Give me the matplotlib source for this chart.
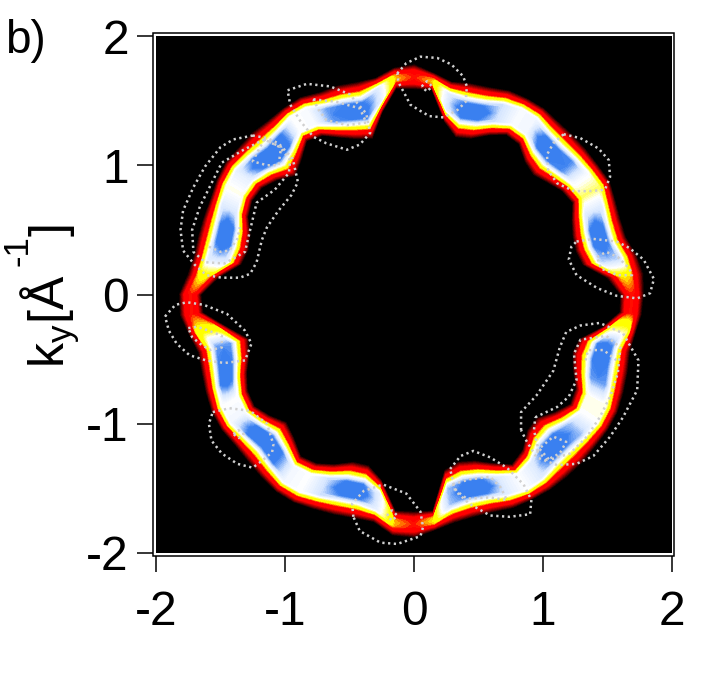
import numpy as np
import matplotlib
matplotlib.use('Agg')
import matplotlib.pyplot as plt
from matplotlib.colors import LinearSegmentedColormap
from matplotlib.patches import Rectangle

plt.rcParams['font.family'] = ['Liberation Sans', 'DejaVu Sans']
plt.rcParams['mathtext.fontset'] = 'custom'
plt.rcParams['mathtext.rm'] = 'Liberation Sans'
plt.rcParams['mathtext.default'] = 'regular'
plt.rcParams['axes.unicode_minus'] = False

# ring every 5 degrees, k in 1/A
ring_angle = np.arange(0, 360, 5)
ring_inner = [1.60, 1.50, 1.33, 1.30, 1.31, 1.35, 1.42, 1.40, 1.35, 1.31, 1.34, 1.42, 1.43, 1.36, 1.285, 1.26, 1.36, 1.59,
              1.59, 1.60, 1.43, 1.25, 1.28, 1.34, 1.42, 1.45, 1.36, 1.30, 1.38, 1.44, 1.45, 1.42, 1.35, 1.33, 1.36, 1.52,
              1.65, 1.64, 1.47, 1.33, 1.36, 1.43, 1.49, 1.51, 1.46, 1.40, 1.45, 1.53, 1.51, 1.45, 1.38, 1.37, 1.46, 1.68,
              1.68, 1.68, 1.38, 1.34, 1.37, 1.44, 1.52, 1.47, 1.37, 1.35, 1.42, 1.48, 1.45, 1.36, 1.31, 1.33, 1.48, 1.60]
ring_outer = [1.78, 1.785, 1.75, 1.70, 1.70, 1.72, 1.75, 1.74, 1.74, 1.74, 1.74, 1.755, 1.75, 1.74, 1.705, 1.69, 1.67, 1.72,
              1.78, 1.76, 1.70, 1.70, 1.72, 1.725, 1.76, 1.76, 1.755, 1.77, 1.77, 1.78, 1.765, 1.74, 1.735, 1.73, 1.73, 1.76,
              1.82, 1.82, 1.77, 1.73, 1.75, 1.78, 1.81, 1.82, 1.81, 1.82, 1.84, 1.86, 1.857, 1.83, 1.81, 1.79, 1.785, 1.87,
              1.88, 1.83, 1.79, 1.78, 1.79, 1.82, 1.83, 1.84, 1.84, 1.84, 1.83, 1.83, 1.82, 1.79, 1.76, 1.73, 1.74, 1.77]
ring_peak = [.38, .46, .82, 1.1, 1.1, .76, .58, .68, .92, 1.1, 1.05, .70, .68, .80, 1.1, 1.1, .76, .44,
             .38, .44, .76, 1.0, 1.1, .90, .68, .66, .95, 1.1, 1.1, .74, .64, .76, 1.1, 1.1, .76, .48,
             .38, .38, .50, .90, 1.1, 1.0, .66, .70, 1.0, 1.1, .95, .70, .66, .80, 1.1, 1.1, .74, .44,
             .38, .46, .85, 1.1, 1.1, .76, .66, .76, 1.1, 1.1, .85, .66, .64, .90, 1.1, 1.0, .60, .38]
# across the ring, inner edge to outer edge: rise in the wide parts, share of the peak in the necks
across_pos = [0, .05, .10, .16, .21, .27, .32, .37, .5, .63, .68, .73, .79, .84, .90, .95, 1]
across_wide = [0, .12, .25, .38, .50, .66, .80, .94, 1.05, .94, .80, .66, .50, .38, .25, .12, 0]
across_neck = [0, .12, .27, .45, .60, .80, .90, .96, 1, .96, .90, .80, .60, .45, .27, .12, 0]

# dotted loops, k in 1/A
loop_a = [(-1.25, 1.23), (-1.40, 1.20), (-1.50, 1.14), (-1.62, .99), (-1.71, .83), (-1.79, .65), (-1.81, .50), (-1.79, .34), (-1.70, .23), (-1.61, .15), (-1.49, .13), (-1.35, .13), (-1.27, .16), (-1.22, .25), (-1.18, .42), (-1.14, .52), (-1.05, .65), (-.95, .77), (-.90, .87), (-.94, 1.05), (-1.05, 1.17), (-1.14, 1.21), (-1.25, 1.23)]
loop_b = [(-1.16, 1.20), (-1.32, 1.12), (-1.49, 1.02), (-1.57, .86), (-1.66, .68), (-1.72, .50), (-1.71, .33), (-1.62, .25), (-1.47, .24), (-1.31, .33), (-1.27, .50), (-1.22, .71), (-1.08, .81), (-.97, .94), (-.96, 1.04), (-1.04, 1.14), (-1.16, 1.20)]
loop_c = [(-1.16, 1.20), (-1.23, 1.07), (-1.25, 1.03), (-1.14, 1.00), (-1.05, 1.00), (-1.03, 1.14), (-1.16, 1.20)]
loop_d = [(-1.59, .37), (-1.50, .33), (-1.43, .34), (-1.37, .43), (-1.35, .52)]
loop_e = [(-.98, 1.58), (-.83, 1.63), (-.65, 1.61), (-.50, 1.55), (-.37, 1.40), (-.34, 1.25), (-.42, 1.16), (-.52, 1.12), (-.68, 1.17), (-.78, 1.22), (-.88, 1.34), (-.96, 1.47), (-.98, 1.58)]
loop_f = [(-.78, 1.51), (-.60, 1.49), (-.42, 1.44), (-.37, 1.33), (-.52, 1.31), (-.68, 1.35), (-.74, 1.43), (-.78, 1.51)]
loop_g = [(-.13, 1.71), (-.06, 1.79), (.05, 1.84), (.18, 1.83), (.29, 1.78), (.38, 1.69), (.41, 1.61), (.40, 1.49), (.34, 1.43), (.23, 1.37), (.12, 1.38), (.05, 1.42), (-.03, 1.47), (-.06, 1.53), (-.12, 1.64), (-.13, 1.71)]
loop_g2 = [(.06, 1.61), (.10, 1.65), (.14, 1.61), (.10, 1.57), (.06, 1.61)]
loop_h = [(1.16, 1.24), (1.29, 1.21), (1.43, 1.13), (1.51, 1.04), (1.52, .91), (1.48, .81), (1.36, .80), (1.24, .80), (1.11, .86), (1.04, .96), (1.03, 1.08), (1.08, 1.17), (1.16, 1.24)]
loop_i = [(1.26, .41), (1.39, .43), (1.57, .41), (1.67, .36), (1.78, .27), (1.86, .12), (1.83, .01), (1.73, -.03), (1.57, -.01), (1.42, .05), (1.26, .15), (1.20, .27), (1.22, .37), (1.26, .41)]
loop_j = [(1.42, .29), (1.49, .33), (1.58, .29), (1.67, .20), (1.69, .15), (1.58, .15), (1.45, .20), (1.42, .29)]
loop_k = [(-1.93, -.17), (-1.85, -.08), (-1.76, -.06), (-1.63, -.08), (-1.45, -.15), (-1.31, -.28), (-1.26, -.38), (-1.31, -.51), (-1.47, -.53), (-1.61, -.51), (-1.74, -.47), (-1.84, -.38), (-1.90, -.28), (-1.93, -.17)]
loop_l = [(-1.75, -.26), (-1.68, -.25), (-1.59, -.28), (-1.49, -.32), (-1.49, -.41), (-1.58, -.43), (-1.66, -.38), (-1.72, -.33), (-1.75, -.26)]
loop_m = [(-1.56, -.91), (-1.43, -.88), (-1.27, -.90), (-1.14, -1.00), (-1.09, -1.16), (-1.10, -1.22), (-1.17, -1.28), (-1.25, -1.34), (-1.37, -1.31), (-1.49, -1.23), (-1.57, -1.13), (-1.59, -1.00), (-1.56, -.91)]
loop_n = [(-1.40, -1.08), (-1.36, -1.05), (-1.32, -1.08), (-1.36, -1.11), (-1.40, -1.08)]
loop_o = [(-.47, -1.72), (-.48, -1.62), (-.39, -1.52), (-.24, -1.47), (-.06, -1.54), (.05, -1.68), (.07, -1.80), (.05, -1.87), (-.01, -1.89), (-.13, -1.93), (-.26, -1.92), (-.42, -1.83), (-.47, -1.72)]
loop_o2 = [(-.21, -1.71), (-.17, -1.67), (-.13, -1.71), (-.17, -1.75), (-.21, -1.71)]
loop_p = [(.83, -1.05), (.83, -.91), (.95, -.78), (1.08, -.59), (1.13, -.41), (1.18, -.29), (1.29, -.24), (1.44, -.22), (1.62, -.30), (1.74, -.51), (1.73, -.74), (1.62, -.95), (1.52, -1.10), (1.39, -1.25), (1.26, -1.31), (1.11, -1.32), (.95, -1.26), (.87, -1.13), (.83, -1.05)]
loop_q = [(.94, -.95), (1.11, -.87), (1.20, -.79), (1.26, -.66), (1.24, -.46), (1.29, -.35), (1.49, -.32), (1.60, -.41), (1.58, -.61), (1.52, -.79), (1.44, -.95), (1.34, -1.10), (1.21, -1.23), (1.05, -1.28), (.96, -1.18), (.93, -1.05), (.94, -.95)]
loop_r = [(.95, -1.21), (1.08, -1.10), (1.18, -1.14), (1.13, -1.23), (1.03, -1.28), (.95, -1.21)]
loop_s = [(1.33, -.51), (1.35, -.43), (1.47, -.43), (1.57, -.51)]
loop_t = [(.28, -1.35), (.36, -1.25), (.46, -1.21), (.59, -1.26), (.72, -1.34), (.85, -1.47), (.91, -1.59), (.90, -1.70), (.74, -1.72), (.59, -1.71), (.43, -1.62), (.32, -1.52), (.28, -1.35)]
loop_u = [(.30, -1.47), (.43, -1.43), (.59, -1.41), (.67, -1.49), (.72, -1.59), (.59, -1.57), (.41, -1.58), (.33, -1.52), (.30, -1.47)]
all_loops = [loop_a, loop_b, loop_c, loop_d, loop_e, loop_f, loop_g, loop_g2, loop_h, loop_i, loop_j, loop_k, loop_l,
             loop_m, loop_n, loop_o, loop_o2, loop_p, loop_q, loop_r, loop_s, loop_t, loop_u]

ticks = [-2, -1, 0, 1, 2]

# polar table -> curvilinear mesh, closed round the ring
theta = np.radians(np.append(ring_angle, 360))
r_in = np.append(ring_inner, ring_inner[0])
r_out = np.append(ring_outer, ring_outer[0])
peak = np.append(ring_peak, ring_peak[0])
pos = np.array(across_pos)
rr = r_in[:, None] + (r_out - r_in)[:, None] * pos[None, :]
X = rr * np.cos(theta)[:, None]
Y = rr * np.sin(theta)[:, None]
wide = np.minimum(peak[:, None], np.array(across_wide)[None, :])
neck = peak[:, None] * np.array(across_neck)[None, :]
Z = np.where(peak[:, None] < .5, neck, wide)

cmap = LinearSegmentedColormap.from_list('arpes', [(0, '#000000'), (.1, '#700000'), (.25, '#ff0000'), (.38, '#ff0000'),
                                                   (.46, '#ffff00'), (.54, '#ffff00'), (.66, '#ffffff'), (.80, '#d6e6ff'),
                                                   (.94, '#3a80f0'), (1, '#3a80f0')])

fig = plt.figure(figsize=(7.22, 6.97), dpi=100)
ax = fig.add_axes([156 / 722, 1 - 553 / 697, 516 / 722, 517 / 697])
ax.set_facecolor('black')
ax.contourf(X, Y, Z, levels=np.linspace(0, 1, 65), cmap=cmap, vmin=0, vmax=1, extend='max')

for loop in all_loops:
    pts = np.array(loop)
    ax.plot(pts[:, 0], pts[:, 1], color='#d0d0d0', linewidth=1.8, linestyle=(0, (.9, 1.4)))

ax.set_xlim(-2, 2)
ax.set_ylim(-2, 2)
ax.set_xticks(ticks)
ax.set_yticks(ticks)
for name in ['left', 'bottom']:
    ax.spines[name].set_position(('outward', 2.2))
for spine in ax.spines.values():
    spine.set_visible(False)
ax.tick_params(length=11.5, width=1.1, labelsize=34.5, pad=6)
ax.tick_params(axis='x', pad=13)

# frame sits a little outside the image
fig.add_artist(Rectangle((153 / 722, 1 - 556 / 697), 521 / 722, 523 / 697, transform=fig.transFigure,
                         fill=False, edgecolor='black', linewidth=1.1))

fig.text(5 / 722, 1 - 53 / 697, 'b)', fontsize=33, ha='left', va='baseline')
# y label pieces, rotated, so the superscript can sit where it does in the reference
label_opts = dict(rotation=90, ha='left', va='baseline', rotation_mode='anchor')
fig.text(65 / 722, 1 - 368 / 697, 'k$_{y}$[Å', fontsize=36, **label_opts)
fig.text(28 / 722, 1 - 266 / 697, '-1', fontsize=25, **label_opts)
fig.text(65 / 722, 1 - 236 / 697, ']', fontsize=36, **label_opts)

fig.savefig('out.png', dpi=100)
